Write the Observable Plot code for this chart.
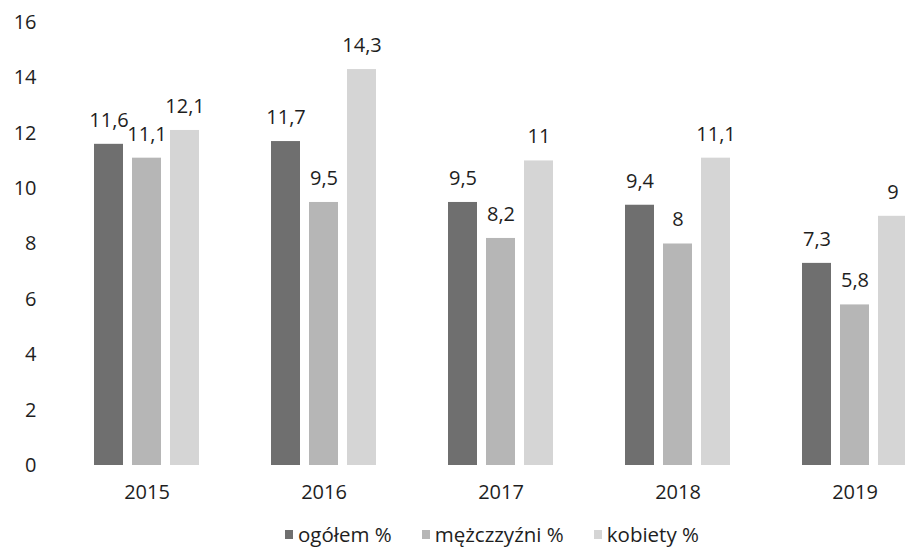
<!DOCTYPE html>
<html><head><meta charset="utf-8">
<script src="https://cdn.jsdelivr.net/npm/d3@7"></script>
<script src="https://cdn.jsdelivr.net/npm/@observablehq/plot@0.6"></script>
<style>
body{margin:0;background:#fff;font-family:"Open Sans",sans-serif;color:#1e1e1e;overflow:hidden;}
#legend{display:flex;align-items:center;margin-left:285px;font-size:20.5px;height:36px;line-height:36px;}
#legend .item{display:flex;align-items:center;margin-right:30px;}
#legend .sw{width:8px;height:9px;margin-right:5px;}
</style></head><body><div id="chart"></div><div id="legend"></div>
<script>
const years = ["2015","2016","2017","2018","2019"];
const series = ["ogółem %","mężczzyźni %","kobiety %"];
const ogolem = [11.6, 11.7, 9.5, 9.4, 7.3];
const mezczyzni = [11.1, 9.5, 8.2, 8, 5.8];
const kobiety = [12.1, 14.3, 11, 11.1, 9];
const colors = ["#6f6f6f", "#b6b6b6", "#d5d5d5"];
const yTicks = [0, 2, 4, 6, 8, 10, 12, 14, 16];

const data = years.flatMap((y, i) =>
  [ogolem[i], mezczyzni[i], kobiety[i]].map((v, j) => ({year: y, series: series[j], value: v}))
);

const chart = Plot.plot({
  width: 905, height: 516,
  marginLeft: 56, marginRight: -39, marginTop: 22, marginBottom: 51,
  style: {fontFamily: "Open Sans", fontSize: "20px", color: "#1e1e1e", background: "white", overflow: "visible"},
  fx: {domain: years, padding: 0, label: null},
  x: {domain: series, axis: null, paddingInner: 0.23, paddingOuter: 0.89},
  y: {domain: [0, 16], axis: null},
  color: {domain: series, range: colors},
  marks: [
    Plot.axisY({ticks: yTicks, tickSize: 0, tickPadding: 22, label: null, fontSize: 20}),
    Plot.axisFx({anchor: "bottom", tickSize: 0, tickPadding: 19, label: null, fontSize: 20}),
    Plot.barY(data, {fx: "year", x: "series", y: "value", fill: "series"}),
    Plot.text(data, {fx: "year", x: "series", y: "value",
      text: d => String(d.value).replace(".", ","), dy: -24, fontSize: 20, fill: "#1e1e1e"})
  ]
});
document.getElementById("chart").appendChild(chart);

const legend = document.getElementById("legend");
series.forEach((s, i) => {
  const item = document.createElement("div");
  item.className = "item";
  const sw = document.createElement("span");
  sw.className = "sw";
  sw.style.background = colors[i];
  const t = document.createElement("span");
  t.textContent = s;
  item.appendChild(sw); item.appendChild(t);
  legend.appendChild(item);
});
</script>
</body></html>
